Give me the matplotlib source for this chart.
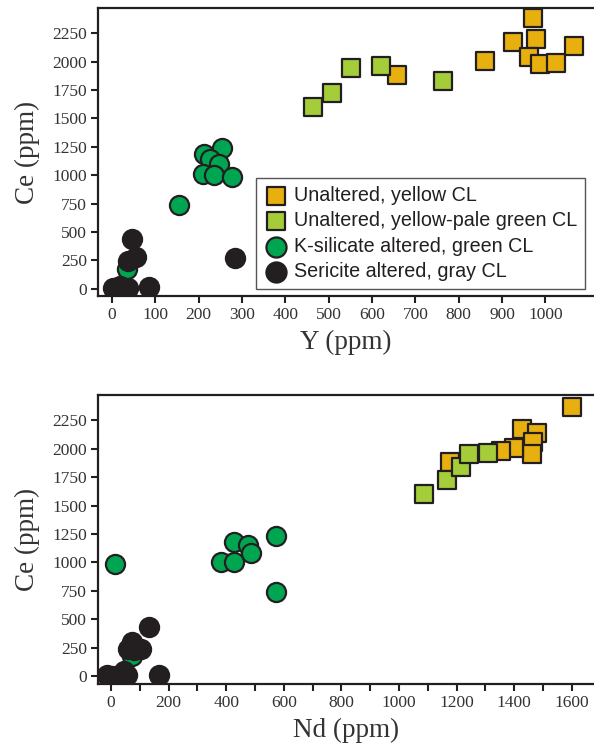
"""
Ce vs Y and Ce vs Nd scatter plots for four CL / alteration groups.
Output: out.png
"""

import matplotlib.pyplot as plt
from matplotlib.ticker import FixedLocator

# ---------------------------------------------------------------------
# Data (ppm)
# ---------------------------------------------------------------------

LABELS = [
    "Unaltered, yellow CL",
    "Unaltered, yellow-pale green CL",
    "K-silicate altered, green CL",
    "Sericite altered, gray CL",
]

CE_TICKS = [0, 250, 500, 750, 1000, 1250, 1500, 1750, 2000, 2250]
Y_TICKS = [0, 100, 200, 300, 400, 500, 600, 700, 800, 900, 1000]
ND_TICKS = [0, 200, 400, 600, 800, 1000, 1200, 1400, 1600]
ND_MINOR = [100, 300, 500, 700, 900, 1100, 1300, 1500]

# top panel: Y vs Ce
yel_y = [971, 925, 979, 1066, 962, 988, 1025, 861, 657]
yel_ce_top = [2380, 2169, 2195, 2136, 2042, 1975, 1984, 2001, 1878]
pale_y = [463, 507, 551, 620, 763]
pale_ce_top = [1603, 1720, 1943, 1963, 1831]
ksil_y = [155, 212, 253, 226, 246, 211, 235, 278, 36]
ksil_ce_top = [738, 1187, 1237, 1143, 1096, 1008, 1002, 982, 173]
ser_y = [47, 55, 38, 284, 86, 3, 18, 38, 30, 10]
ser_ce_top = [437, 275, 240, 270, 15, 6, 20, 6, 0, 0]

# bottom panel: Nd vs Ce
yel_nd = [1601, 1426, 1478, 1465, 1462, 1400, 1355, 1176]
yel_ce_bot = [2368, 2172, 2139, 2060, 1951, 2002, 1981, 1884]
pale_nd = [1087, 1168, 1214, 1244, 1310]
pale_ce_bot = [1602, 1723, 1835, 1954, 1963]
ksil_nd = [15, 382, 428, 428, 477, 485, 572, 572, 74]
ksil_ce_bot = [986, 1004, 1004, 1183, 1150, 1086, 1236, 737, 176]
ser_nd = [132, 74, 60, 103, 80, 167, -13, 5, 45, 57]
ser_ce_bot = [437, 299, 241, 241, 230, 9, 15, 5, 44, 15]

# ---------------------------------------------------------------------
# Style
# ---------------------------------------------------------------------

C_YEL = "#E8B00E"
C_PALE = "#A5CD39"
C_GRN = "#00A551"
C_DARK = "#231F20"
EDGE = "#231F20"

SERIF = "Liberation Serif"
SANS = "Liberation Sans"

plt.rcParams["font.family"] = SERIF
plt.rcParams["axes.linewidth"] = 1.6


def style_axes(ax, xticks, xminor, xlim, xlabel):
    ax.set_xlim(*xlim)
    ax.set_ylim(-65, 2470)
    ax.spines["right"].set_visible(False)
    for s in ("left", "bottom", "top"):
        ax.spines[s].set_color(C_DARK)
    ax.yaxis.set_major_locator(FixedLocator(CE_TICKS))
    ax.xaxis.set_major_locator(FixedLocator(xticks))
    if xminor:
        ax.xaxis.set_minor_locator(FixedLocator(xminor))
        ax.tick_params(axis="x", which="minor", direction="out", length=5,
                       width=1.5, color=C_DARK)
    ax.tick_params(axis="both", which="major", direction="out", length=5,
                   width=1.5, color=C_DARK, labelsize=12.5,
                   labelcolor="#333333", pad=3)
    ax.set_ylabel("Ce (ppm)", fontsize=19.5, color="#333333", labelpad=9)
    ax.set_xlabel(xlabel, fontsize=19.5, color="#333333", labelpad=5)


def draw_groups(ax, groups):
    kw = dict(edgecolors=EDGE, linewidths=1.6, zorder=3)
    for (x, y, color, marker, size), label in zip(groups, LABELS):
        ax.scatter(x, y, s=size, c=color, marker=marker, label=label, **kw)


fig = plt.figure(figsize=(5.94, 7.44), dpi=100)

# ---------------------------------------------------------------------
# Top: Y vs Ce
# ---------------------------------------------------------------------
ax1 = fig.add_axes([0.165, 0.602, 0.835, 0.387])
draw_groups(ax1, [
    (yel_y, yel_ce_top, C_YEL, "s", 150),
    (pale_y, pale_ce_top, C_PALE, "s", 150),
    (ksil_y, ksil_ce_top, C_GRN, "o", 190),
    (ser_y, ser_ce_top, C_DARK, "o", 190),
])
style_axes(ax1, Y_TICKS, None, (-32, 1112), "Y (ppm)")

leg = ax1.legend(
    loc="lower right", bbox_to_anchor=(0.982, 0.024), borderaxespad=0,
    frameon=True, fancybox=False, framealpha=1, edgecolor="#555555",
    prop={"family": SANS, "size": 14.2}, labelspacing=0.33,
    handletextpad=0.3, borderpad=0.4, handlelength=1.2,
    markerscale=1.05,
)
leg.get_frame().set_linewidth(1.0)
for t in leg.get_texts():
    t.set_color(C_DARK)

# ---------------------------------------------------------------------
# Bottom: Nd vs Ce
# ---------------------------------------------------------------------
ax2 = fig.add_axes([0.165, 0.081, 0.835, 0.388])
draw_groups(ax2, [
    (yel_nd, yel_ce_bot, C_YEL, "s", 150),
    (pale_nd, pale_ce_bot, C_PALE, "s", 150),
    (ksil_nd, ksil_ce_bot, C_GRN, "o", 190),
    (ser_nd, ser_ce_bot, C_DARK, "o", 190),
])
style_axes(ax2, ND_TICKS, ND_MINOR, (-45, 1677), "Nd (ppm)")

fig.savefig("out.png", dpi=100)
